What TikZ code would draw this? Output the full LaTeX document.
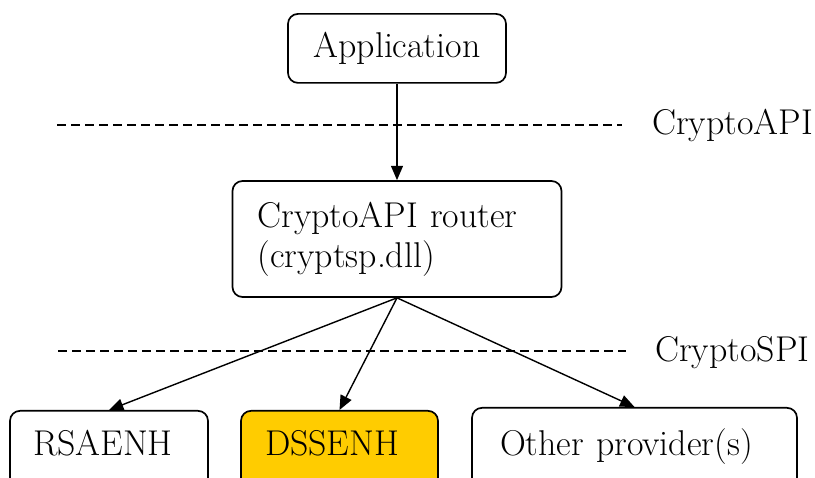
\documentclass[tikz,border=0pt]{standalone}
\usepackage{tikz}
\usetikzlibrary{arrows.meta}
\definecolor{dssfill}{HTML}{FFCC00}
\tikzset{
	box/.style={draw, line width=1.2pt, rounded corners=0.25cm, font=\fontsize{25.5}{28.5}\selectfont},
	lowbox/.style={box, anchor=north, align=left, inner ysep=0pt, text depth=1cm},
	layer/.style={line width=1pt, dash pattern=on 0.225cm off 0.125cm},
	layertext/.style={anchor=base west, inner sep=0pt, font=\fontsize{25.5}{28.5}\selectfont},
	call/.style={line width=1pt, -{Triangle[length=0.36cm,width=0.3cm]}}
}

\begin{document}
\begin{tikzpicture}
			%%%%% START %%%%%
			
			\useasboundingbox (0, 0) rectangle (20.375, 11.95);
			\clip (0, 0) rectangle (20.375, 11.95);
			
			\node[box, minimum width=5.45cm, minimum height=1.725cm] (app) at (9.925, 10.74) {Application};
			
			\node[box, text width=6.975cm, align=left, inner xsep=0.625cm, minimum height=2.9cm] (router) at (9.925, 5.975) {CryptoAPI router\\(cryptsp.dll)};
			
			\draw[layer] (1.425, 8.825) -- (15.55, 8.825);
			\node[layertext] (api) at (16.3, 8.575) {CryptoAPI};
			
			\draw[layer] (1.45, 3.175) -- (15.65, 3.175);
			\node[layertext] (spi) at (16.375, 2.9) {CryptoSPI};
			
			\node[lowbox, text width=3.8cm, inner xsep=0.575cm, text height=1.125cm] (rsa) at (2.725, 1.7) {RSAENH};
			\node[lowbox, fill=dssfill, text width=3.725cm, inner xsep=0.6cm, text height=1.125cm] (dss) at (8.4875, 1.7) {DSSENH};
			\node[lowbox, text width=6.725cm, inner xsep=0.7cm, text height=1.2cm] (other) at (15.8625, 1.775) {Other provider(s)};
			
			\draw[call] (app.south) -- (router.north);
			\draw[call] (router.south) -- (rsa.north);
			\draw[call] (router.south) -- (dss.north);
			\draw[call] (router.south) -- (other.north);
			
			%%%%% END %%%%%
		\end{tikzpicture}
\end{document}
